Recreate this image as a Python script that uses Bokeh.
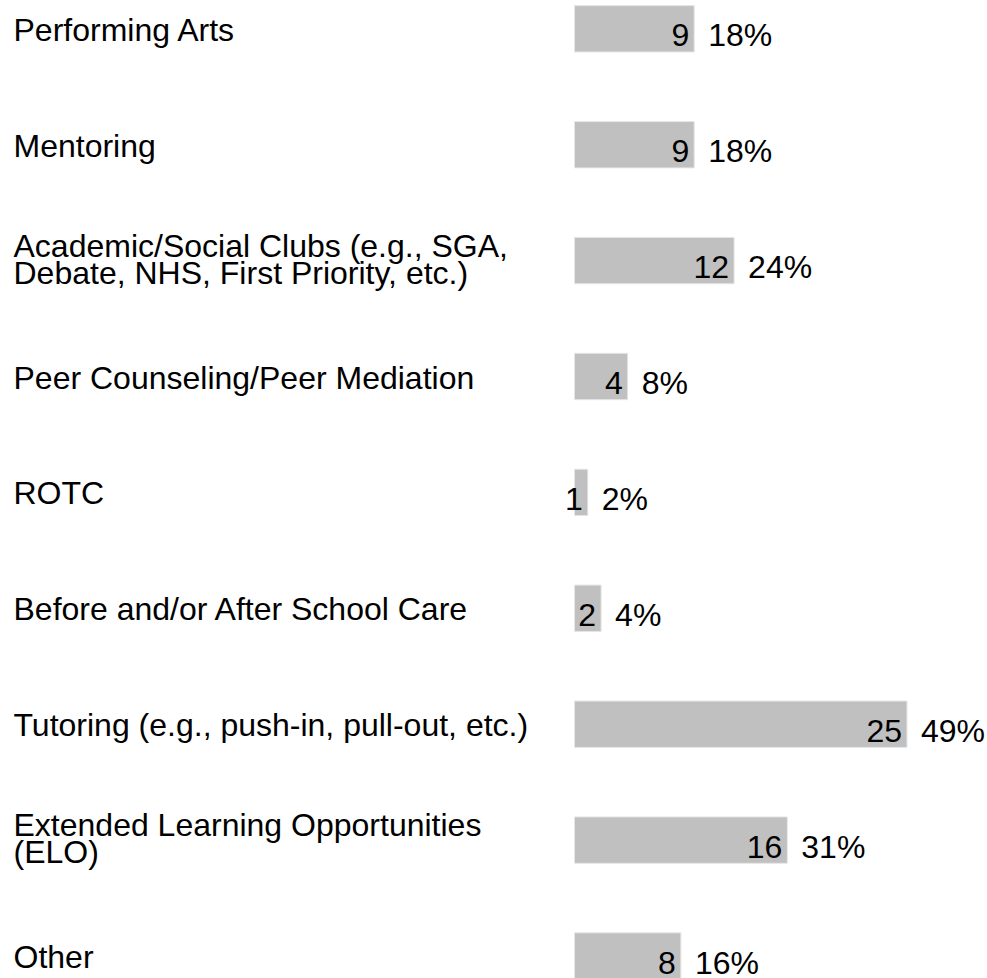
from bokeh.plotting import figure
from bokeh.models import Range1d, ColumnDataSource
from bokeh.embed import file_html
from bokeh.resources import INLINE
from bokeh.core.properties import value

categories = [
    "Performing Arts",
    "Mentoring",
    "Academic/Social Clubs (e.g., SGA,\nDebate, NHS, First Priority, etc.)",
    "Peer Counseling/Peer Mediation",
    "ROTC",
    "Before and/or After School Care",
    "Tutoring (e.g., push-in, pull-out, etc.)",
    "Extended Learning Opportunities\n(ELO)",
    "Other",
]
counts = [9, 9, 12, 4, 1, 2, 25, 16, 8]
percents = [18, 18, 24, 8, 2, 4, 49, 31, 16]

FONT = "Liberation Sans"
FSIZE = "32px"

W, H = 987, 978
x0_px = 574.0
px_per_unit = 13.3
row0_px = 28.3
row_step = 115.9

x_start = -x0_px / px_per_unit
x_end = x_start + W / px_per_unit
y_top = -row0_px / row_step
y_bottom = y_top + H / row_step

p = figure(width=W, height=H,
           x_range=Range1d(x_start, x_end),
           y_range=Range1d(y_bottom, y_top),
           output_backend="svg", toolbar_location=None,
           x_axis_location=None, y_axis_location=None,
           min_border=0)
p.grid.visible = False
p.outline_line_color = None
p.background_fill_color = "white"
p.border_fill_color = "white"

rows = list(range(len(categories)))
src = ColumnDataSource(dict(
    row=rows,
    count=counts,
    count_str=[str(c) for c in counts],
    pct_str=[f"{v}%" for v in percents],
))

p.hbar(y="row", left=0, right="count", height=0.4, source=src,
       fill_color="#c0c0c0", line_color="#e6e6e6", line_width=1)

p.text(x="count", y="row", text="count_str", source=src,
       text_align="right", text_baseline="alphabetic",
       x_offset=-5, y_offset=6.5,
       text_font=value(FONT), text_font_size=FSIZE, text_color="black")

p.text(x="count", y="row", text="pct_str", source=src,
       text_align="left", text_baseline="alphabetic",
       x_offset=14, y_offset=6.5,
       text_font=value(FONT), text_font_size=FSIZE, text_color="black")

lab_y, lab_text, lab_off = [], [], []
for i, cat in enumerate(categories):
    lines = cat.split("\n")
    n = len(lines)
    for k, line in enumerate(lines):
        lab_y.append(i)
        lab_text.append(line)
        lab_off.append(1 - (n - 1) * 16 + k * 27)

lab_src = ColumnDataSource(dict(x=[x_start] * len(lab_y), y=lab_y, text=lab_text, off=lab_off))
p.text(x="x", y="y", text="text", source=lab_src,
       text_align="left", text_baseline="alphabetic",
       x_offset=13, y_offset="off",
       text_font=value(FONT), text_font_size=FSIZE, text_color="black")

open("out.html", "w").write(file_html(p, INLINE))
